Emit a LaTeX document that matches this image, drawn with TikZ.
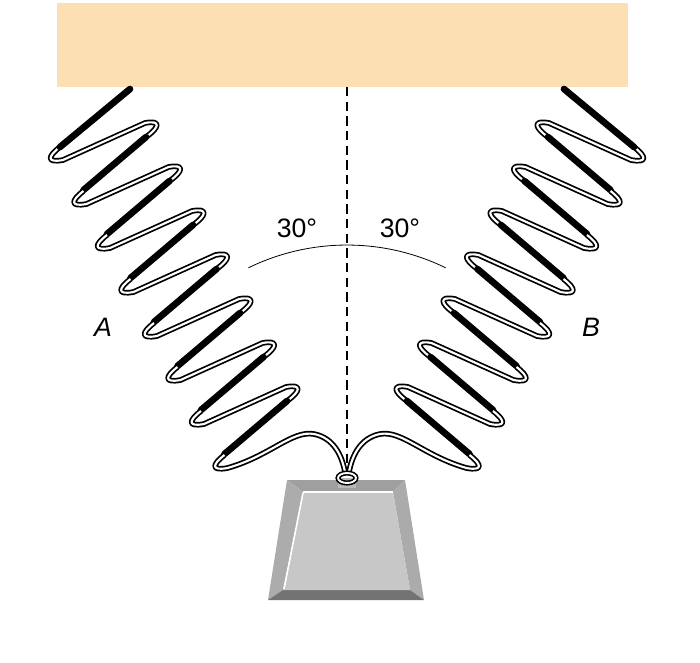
\documentclass[tikz,border=0pt]{standalone}
\usepackage{fontspec}
\setmainfont{Liberation Sans}
\begin{document}
\begin{tikzpicture}[x=0.75pt,y=-0.75pt,
  back/.style={draw=black,line width=1.3pt,double=white,double distance=1.6pt,line join=round},
  front/.style={draw=black,line width=5pt,line cap=round},
  lab/.style={font=\fontsize{20}{24}\selectfont}]
\useasboundingbox (0,0) rectangle (700,662);
\fill[fill={rgb,255:red,252;green,224;blue,180}] (57,3) rectangle (628,87);
\newcommand\myspring{%
  \foreach \i [evaluate=\i as \lx using 50+23.5*(\i-1), evaluate=\i as \ly using 153+44*(\i-1), evaluate=\i as \rx using 157+23.5*(\i-1), evaluate=\i as \ry using 130+44*(\i-1)] in {1,...,7}{
    \draw[back] (\lx+10,\ly-6) .. controls (\lx-3,\ly+4) and (\lx-3,\ly+10) .. (\lx+13,\ly+7) -- (\rx-12,\ry-7) .. controls (\rx+4,\ry-10) and (\rx+3,\ry-3) .. (\rx-11,\ry+7);
    \draw[front] (\rx-11,\ry+7) -- (\lx+33.5,\ly+37);
  }
  \draw[back] (224.5,455) .. controls (211.5,465) and (211.5,471) .. (227.5,468) .. controls (270,456) and (292,430) .. (314,434) .. controls (334,438) and (342,456) .. (345,472);
  \draw[front] (130,89) -- (60,147);
}
\myspring
\begin{scope}[xshift=520.5pt,xscale=-1]
\myspring
\end{scope}
\draw[dashed,line width=0.8pt,dash pattern=on 7pt off 4pt] (347,87) -- (347,470);
\draw[line width=0.6pt] (248.4,267.8) arc[start angle=-116,end angle=-64,radius=225];
\node[lab] (a30) at (297,228) {30°};
\node[lab] (b30) at (400,228) {30°};
\node[lab,font=\fontsize{20}{24}\selectfont\itshape] (A) at (103,327) {A};
\node[lab,font=\fontsize{20}{24}\selectfont\itshape] (B) at (591,327) {B};
% weight
\fill[gray!75] (287,480) -- (405,480) -- (393,492) -- (303,492) -- cycle;
\fill[gray!65] (287,480) -- (303,492) -- (283,590) -- (268,600) -- cycle;
\fill[gray!90!black!60] (405,480) -- (424,600) -- (410,590) -- (393,492) -- cycle;
\fill[black!55] (268,600) -- (424,600) -- (410,590) -- (283,590) -- cycle;
\fill[black!22] (303,492) -- (393,492) -- (410,590) -- (283,590) -- cycle;
\draw[white,line width=1.2pt] (303,493) -- (284,589);
\draw[white,line width=1pt] (303,492) -- (393,492);
\fill[gray!55] (338,478) rectangle (356,488);
\draw[black,line width=1.2pt,double=white,double distance=1.4pt] (347,478) ellipse[x radius=9,y radius=5];
\end{tikzpicture}
\end{document}
